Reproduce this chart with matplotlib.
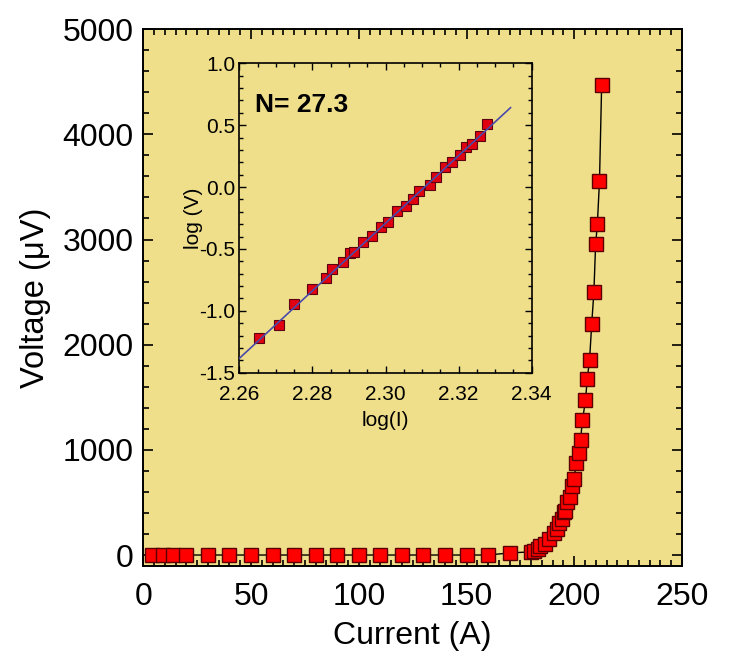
import matplotlib
matplotlib.use("Agg")
import matplotlib.pyplot as plt
import numpy as np
from matplotlib.ticker import MultipleLocator

plt.rcParams['font.family'] = ['Liberation Sans', 'DejaVu Sans']
plt.rcParams['axes.unicode_minus'] = False

# main curve: current (A) vs voltage (uV)
current = [4, 9, 14, 20, 30, 40, 50, 60, 70, 80, 90, 100, 110, 120, 130, 140,
           150, 160, 170, 180, 181.5, 183, 184.2, 186.5, 188.4, 190.5, 192.2,
           192.9, 194.2, 195.1, 195.6, 196.7, 197.8, 198.9, 199.8, 201.0,
           202.0, 202.9, 203.8, 205.2, 206.0, 207.1, 208.1, 209.1, 209.9,
           210.7, 211.7, 212.7]
voltage = [0, 0, 0, 0, 0, 0, 0, 0, 0, 0, 0, 0, 0, 0, 0, 0,
           0, 0, 20, 30, 42, 58, 83, 107, 157, 207, 252,
           300, 344, 405, 415, 500, 553, 654, 722, 876,
           967, 1095, 1281, 1470, 1670, 1856, 2199, 2500, 2953,
           3143, 3555, 4468]

# inset: log(I) vs log(V)
log_i = [2.26545, 2.27072, 2.27498, 2.27998, 2.28379, 2.28543, 2.28833,
         2.29033, 2.29151, 2.29387, 2.29632, 2.29869, 2.30077, 2.30323,
         2.30550, 2.30740, 2.30922, 2.31222, 2.31394, 2.31621, 2.31830,
         2.32030, 2.32193, 2.32357, 2.32575, 2.32774]
log_v = [-1.219, -1.111, -0.943, -0.824, -0.738, -0.662, -0.603, -0.532,
         -0.522, -0.441, -0.397, -0.324, -0.281, -0.197, -0.154, -0.100,
         -0.032, 0.019, 0.081, 0.159, 0.203, 0.262, 0.324, 0.351, 0.414,
         0.511]

# power-law fit, N value and crossing point of log(V)=0
n_value = 27.3
fit_x0 = 2.31071
fit_range = [2.26, 2.3342]

bg = '#efdf8b'

fig = plt.figure(figsize=(7.31, 6.63), dpi=100)
ax = fig.add_axes([0.196, 0.147, 0.737, 0.809])
ax.set_facecolor(bg)
ax.plot(current, voltage, color='black', lw=1.0, marker='s', ms=10,
        mfc='#ff0000', mec='#5a0000', mew=1.0)
ax.set_xlim(0, 250)
ax.set_ylim(-100, 5000)
ax.xaxis.set_major_locator(MultipleLocator(50))
ax.xaxis.set_minor_locator(MultipleLocator(5))
ax.yaxis.set_major_locator(MultipleLocator(1000))
ax.yaxis.set_minor_locator(MultipleLocator(200))
ax.tick_params(which='both', direction='in', top=True, right=True, width=1.2)
ax.tick_params(which='major', length=7, labelsize=23)
ax.tick_params(which='minor', length=4)
ax.tick_params(axis='x', which='major', pad=12)
ax.tick_params(axis='y', which='major', pad=7)
for s in ax.spines.values():
    s.set_linewidth(1.4)
ax.set_xlabel('Current (A)', fontsize=23, labelpad=6)
ax.set_ylabel('Voltage (\u03bcV)', fontsize=23.5, labelpad=8)

# inset
ins = fig.add_axes([0.3274, 0.4379, 0.4, 0.4667])
ins.set_facecolor(bg)
fx = np.array(fit_range)
ins.plot(log_i, log_v, ls='none', marker='s', ms=7, mfc='#e00010',
         mec='#5a0010', mew=0.8, zorder=2)
ins.plot(fx, n_value * (fx - fit_x0), color='#4a4aa8', lw=1.2, zorder=3)
ins.set_xlim(2.26, 2.34)
ins.set_ylim(-1.5, 1.0)
ins.xaxis.set_major_locator(MultipleLocator(0.02))
ins.xaxis.set_minor_locator(MultipleLocator(0.005))
ins.yaxis.set_major_locator(MultipleLocator(0.5))
ins.yaxis.set_minor_locator(MultipleLocator(0.1))
ins.tick_params(which='both', direction='in', top=True, right=True, width=1.0)
ins.tick_params(which='major', length=5, labelsize=15)
ins.tick_params(which='minor', length=3)
ins.tick_params(axis='x', which='major', pad=9)
ins.tick_params(axis='y', which='major', pad=3)
for s in ins.spines.values():
    s.set_linewidth(1.2)
ins.set_xlabel('log(I)', fontsize=15, labelpad=5)
ins.set_ylabel('log (V)', fontsize=15)
ins.yaxis.set_label_coords(-0.125, 0.5)
ins.text(0.054, 0.865, 'N= 27.3', transform=ins.transAxes, fontsize=19,
         fontweight='bold', va='center')

fig.savefig('out.png', dpi=100, facecolor='white')
